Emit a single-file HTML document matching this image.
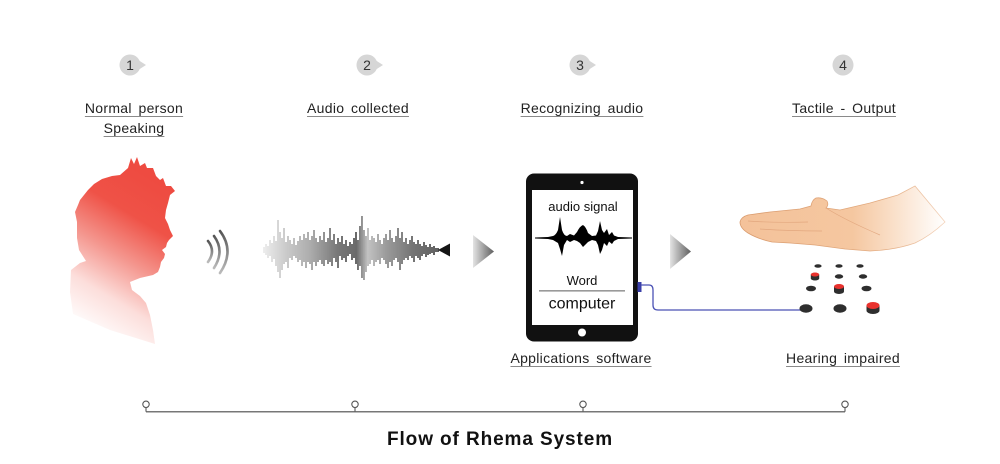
<!DOCTYPE html>
<html>
<head>
<meta charset="utf-8">
<style>
  html,body{margin:0;padding:0;background:#fff;}
  #wrap{position:relative;width:1000px;height:464px;overflow:hidden;background:#fff;font-family:"Liberation Sans",Arial,sans-serif;}
  svg{position:absolute;left:0;top:0;}
  .lbl{position:absolute;width:240px;text-align:center;font-size:14px;line-height:16px;color:#222;letter-spacing:0.3px;word-spacing:2.5px;}
  .lbl span{text-decoration:underline;text-decoration-color:#8a8a8a;text-underline-offset:3px;text-decoration-thickness:1px;}
  .two{line-height:20px;}
</style>
</head>
<body>
<div id="wrap">
<svg width="1000" height="464" viewBox="0 0 1000 464" xmlns="http://www.w3.org/2000/svg">
  <defs>
    <linearGradient id="headG" gradientUnits="userSpaceOnUse" x1="170" y1="190" x2="85" y2="330">
      <stop offset="0" stop-color="#ee4b41"/>
      <stop offset="0.25" stop-color="#ef5247"/>
      <stop offset="0.5" stop-color="#f4958d"/>
      <stop offset="0.75" stop-color="#fcdedb"/>
      <stop offset="1" stop-color="#ffffff"/>
    </linearGradient>
    <linearGradient id="waveG" gradientUnits="userSpaceOnUse" x1="263" y1="0" x2="450" y2="0">
      <stop offset="0" stop-color="#e6e6e6"/>
      <stop offset="0.12" stop-color="#b5b5b5"/>
      <stop offset="0.25" stop-color="#8a8a8a"/>
      <stop offset="0.4" stop-color="#3e3e3e"/>
      <stop offset="0.5" stop-color="#2a2a2a"/>
      <stop offset="0.56" stop-color="#a8a8a8"/>
      <stop offset="0.66" stop-color="#707070"/>
      <stop offset="0.8" stop-color="#3a3a3a"/>
      <stop offset="1" stop-color="#111"/>
    </linearGradient>
    <linearGradient id="arcG" x1="0" y1="0" x2="0" y2="1">
      <stop offset="0" stop-color="#555"/>
      <stop offset="1" stop-color="#bbb"/>
    </linearGradient>
    <linearGradient id="triG" x1="0" y1="0" x2="1" y2="0">
      <stop offset="0" stop-color="#e4e4e4"/>
      <stop offset="1" stop-color="#5e5e5e"/>
    </linearGradient>
    <linearGradient id="handG" gradientUnits="userSpaceOnUse" x1="740" y1="0" x2="945" y2="0">
      <stop offset="0" stop-color="#f4c29a"/>
      <stop offset="0.55" stop-color="#f5c7a0"/>
      <stop offset="0.8" stop-color="#fbe6d4"/>
      <stop offset="1" stop-color="#ffffff"/>
    </linearGradient>
    <linearGradient id="handS" gradientUnits="userSpaceOnUse" x1="740" y1="0" x2="945" y2="0">
      <stop offset="0" stop-color="#d99a6c"/>
      <stop offset="0.7" stop-color="#e3ab80"/>
      <stop offset="1" stop-color="#f3d3bb"/>
    </linearGradient>
  </defs>

  <!-- numbered circles -->
  <g font-family="Liberation Sans, Arial, sans-serif" font-size="14" fill="#333" text-anchor="middle">
    <polygon points="139,60.5 146,65 139,69.5" fill="#d6d6d6"/>
    <circle cx="130" cy="65" r="10.5" fill="#d6d6d6"/>
    <text x="130" y="70">1</text>
    <polygon points="376,60.5 383,65 376,69.5" fill="#d6d6d6"/>
    <circle cx="367" cy="65" r="10.5" fill="#d6d6d6"/>
    <text x="367" y="70">2</text>
    <polygon points="589,60.5 596,65 589,69.5" fill="#d6d6d6"/>
    <circle cx="580" cy="65" r="10.5" fill="#d6d6d6"/>
    <text x="580" y="70">3</text>
    <circle cx="843" cy="65" r="10.5" fill="#d6d6d6"/>
    <text x="843" y="70">4</text>
  </g>

  <!-- person silhouette -->
  <path fill="url(#headG)" d="M120,175 L128,168 L131,158 L134,164 L137,157 L140,166 L145,163 L147,168 L153,168 L156,176 L160,180 L163,178 L166,186 L171,186 L175,191 L170,195 L168,203 L166,210 L165,218 L168,224 L170,230 L173,236 L169,240 L167,243 L166,247 L162,250 L165,254 L164,258 L161,262 L160,267 L158,272 L153,275 L140,278 L130,282 L132,290 L140,296 L146,303 L150,315 L153,330 L155,344 L110,330 L73,314 L70,292 L71,270 L80,263 L86,261 L79,250 L77,238 L77,222 L75,212 L78,205 L80,200 L84,195 L88,190 L94,184 L102,179 L112,176 Z"/>

  <!-- sound arcs -->
  <g fill="none" stroke="url(#arcG)" stroke-width="2.6" stroke-linecap="round">
    <path d="M208,241 Q216,251 208,262"/>
    <path d="M214,236 Q225,251 214,268"/>
    <path d="M220,231 Q235,251 220,273"/>
  </g>

  <!-- audio waveform -->
  <g stroke="url(#waveG)" stroke-width="1.4" fill="none">
    <path d="M264,247V253 M266,244V255 M268,246V258 M270,240V256 M272,243V262 M274,236V259 M276,241V266 M278,220V272 M280,232V278 M282,238V270 M284,228V264 M286,242V262 M288,236V268 M290,240V258 M292,244V260 M294,238V256 M296,245V258 M298,241V262 M300,236V260 M302,240V266 M304,234V262 M306,238V268 M308,232V262 M310,240V264 M312,236V270 M314,230V262 M316,238V266 M318,242V262 M320,236V260 M322,240V264 M324,232V266 M326,242V260 M328,238V264 M330,228V262 M332,240V266 M334,234V258 M336,244V262 M338,238V268 M340,242V256 M342,236V260 M344,244V258 M346,240V262 M348,246V256 M350,242V254 M352,244V260 M354,238V258 M356,232V264 M358,240V270 M360,226V266 M362,216V278 M364,230V280 M366,236V272 M368,228V266 M370,240V264 M372,236V260 M374,238V266 M376,242V262 M378,234V260 M380,240V264 M382,244V258 M384,238V260 M386,234V264 M388,240V268 M390,230V262 M392,238V266 M394,242V260 M396,236V258 M398,228V262 M400,238V270 M402,232V264 M404,242V260 M406,238V258 M408,244V260 M410,240V256 M412,236V258 M414,242V262 M416,244V256 M418,240V258 M420,244V260 M422,246V256 M424,242V254 M426,245V257 M428,247V255 M430,244V254 M432,247V253 M434,246V255 M436,248V252 M438,248V252"/>
  </g>
  <polygon points="438,250 450,243.5 450,256.5" fill="#151515"/>

  <!-- arrows -->
  <polygon points="473,235 494,251.5 473,268" fill="url(#triG)"/>
  <polygon points="670,234 691,251.5 670,269" fill="url(#triG)"/>

  <!-- tablet -->
  <rect x="526" y="173.5" width="112" height="168" rx="8" fill="#111"/>
  <rect x="532" y="190" width="101" height="135" fill="#fff"/>
  <circle cx="582" cy="182.5" r="1.6" fill="#fff"/>
  <circle cx="582" cy="332.5" r="4" fill="#fff"/>
  <text x="583" y="211" font-family="Liberation Sans, Arial, sans-serif" font-size="13" fill="#111" text-anchor="middle">audio signal</text>
  <path fill="#000" d="M535,237.5 L548,237 L553,236 Q556,235 558,230 L560,217 L562,230 Q564,236 567,236 L570,234 L574,235.5 L577,232 Q580,226 583,225 Q586,227 588,233 L592,236 L596,235.5 L598,231 L600,221 L602,230 L604,233 L607,229 L609,235 L612,232 L614,235.5 L618,237 L632,237.5 L632,238.5 L618,239 L614,241 L612,244 L609,241.5 L607,246 L604,243 L602,250 L600,254 L598,245 L596,241 L592,240 L588,242 L585,245 L583,247 L580,243 L577,241 L574,240 L570,242 L567,240 L564,245 L562,256 L560,249 L558,243 L553,240 L548,239 L535,238.5 Z"/>
  <text x="582" y="285" font-family="Liberation Sans, Arial, sans-serif" font-size="13" fill="#111" text-anchor="middle">Word</text>
  <line x1="539" y1="290.8" x2="625" y2="290.8" stroke="#9a9a9a" stroke-width="1.6"/>
  <text x="582" y="308.5" font-family="Liberation Sans, Arial, sans-serif" font-size="16" fill="#111" text-anchor="middle">computer</text>

  <!-- connector -->
  <rect x="637.5" y="282" width="4" height="10" fill="#3a3fa8"/>
  <path d="M641,285 L649,285 Q653,285 653,290 L653,305 Q653,310 658,310 L805,310" fill="none" stroke="#4b52b5" stroke-width="1.3"/>

  <!-- hand -->
  <path fill="url(#handG)" stroke="url(#handS)" stroke-width="0.8" d="M740,222 Q741,217 748,215 L770,212 L800,209 L811,206 Q812,200 816,198 Q822,197 827,201 Q829,205 826,208 L840,210 L870,203 L898,195 L915,186 L945,222 Q930,236 915,243 Q895,250 870,251 L845,249 L815,245 L790,243 L772,242 Q758,239 748,233 Q740,228 740,222 Z"/>
  <g fill="none" stroke="#dea077" stroke-width="0.7" opacity="0.8">
    <path d="M748,221 Q775,223 808,222"/>
    <path d="M760,229 Q790,231 822,231"/>
    <path d="M826,208 Q845,220 880,235"/>
  </g>

  <!-- tactile pins -->
  <g fill="#2e2e2e">
    <ellipse cx="818" cy="266" rx="3.6" ry="1.8"/>
    <ellipse cx="839" cy="266" rx="3.6" ry="1.8"/>
    <ellipse cx="860" cy="266" rx="3.6" ry="1.8"/>
    <ellipse cx="839" cy="276.5" rx="4.2" ry="2.2"/>
    <ellipse cx="863" cy="276.5" rx="4.2" ry="2.2"/>
    <ellipse cx="811" cy="288.5" rx="5" ry="2.8"/>
    <ellipse cx="866.5" cy="288.5" rx="5" ry="2.8"/>
    <ellipse cx="806" cy="308.5" rx="6.5" ry="4.2"/>
    <ellipse cx="840" cy="308.5" rx="6.5" ry="4.2"/>
    <ellipse cx="815" cy="278.5" rx="4.2" ry="2"/>
    <rect x="810.8" y="274.5" width="8.4" height="4"/>
    <ellipse cx="839" cy="291.5" rx="5" ry="2.5"/>
    <rect x="834" y="286.5" width="10" height="5"/>
    <ellipse cx="873" cy="310.5" rx="6.5" ry="3.5"/>
    <rect x="866.5" y="305.5" width="13" height="5"/>
  </g>
  <g fill="#e8322e">
    <ellipse cx="815" cy="274.5" rx="4.2" ry="2"/>
    <ellipse cx="839" cy="286.5" rx="5" ry="2.5"/>
    <ellipse cx="873" cy="305.5" rx="6.5" ry="3.5"/>
  </g>

  <!-- timeline -->
  <line x1="146" y1="411.7" x2="845" y2="411.7" stroke="#777" stroke-width="1.5"/>
  <g fill="#fff" stroke="#555" stroke-width="1.1">
    <line x1="146" y1="407.5" x2="146" y2="411.7"/>
    <line x1="355" y1="407.5" x2="355" y2="411.7"/>
    <line x1="583" y1="407.5" x2="583" y2="411.7"/>
    <line x1="845" y1="407.5" x2="845" y2="411.7"/>
    <circle cx="146" cy="404.3" r="3.2"/>
    <circle cx="355" cy="404.3" r="3.2"/>
    <circle cx="583" cy="404.3" r="3.2"/>
    <circle cx="845" cy="404.3" r="3.2"/>
  </g>
  <text x="500" y="445" font-family="Liberation Sans, Arial, sans-serif" font-size="19" font-weight="bold" fill="#111" text-anchor="middle" letter-spacing="0.9">Flow of Rhema System</text>
</svg>

<div class="lbl two" style="left:14px;top:98px;"><span>Normal person</span><br><span>Speaking</span></div>
<div class="lbl" style="left:238px;top:100px;"><span>Audio collected</span></div>
<div class="lbl" style="left:462px;top:100px;"><span>Recognizing audio</span></div>
<div class="lbl" style="left:724px;top:100px;"><span>Tactile - Output</span></div>
<div class="lbl" style="left:461px;top:350px;"><span>Applications software</span></div>
<div class="lbl" style="left:723px;top:350px;"><span>Hearing impaired</span></div>
</div>
</body>
</html>
